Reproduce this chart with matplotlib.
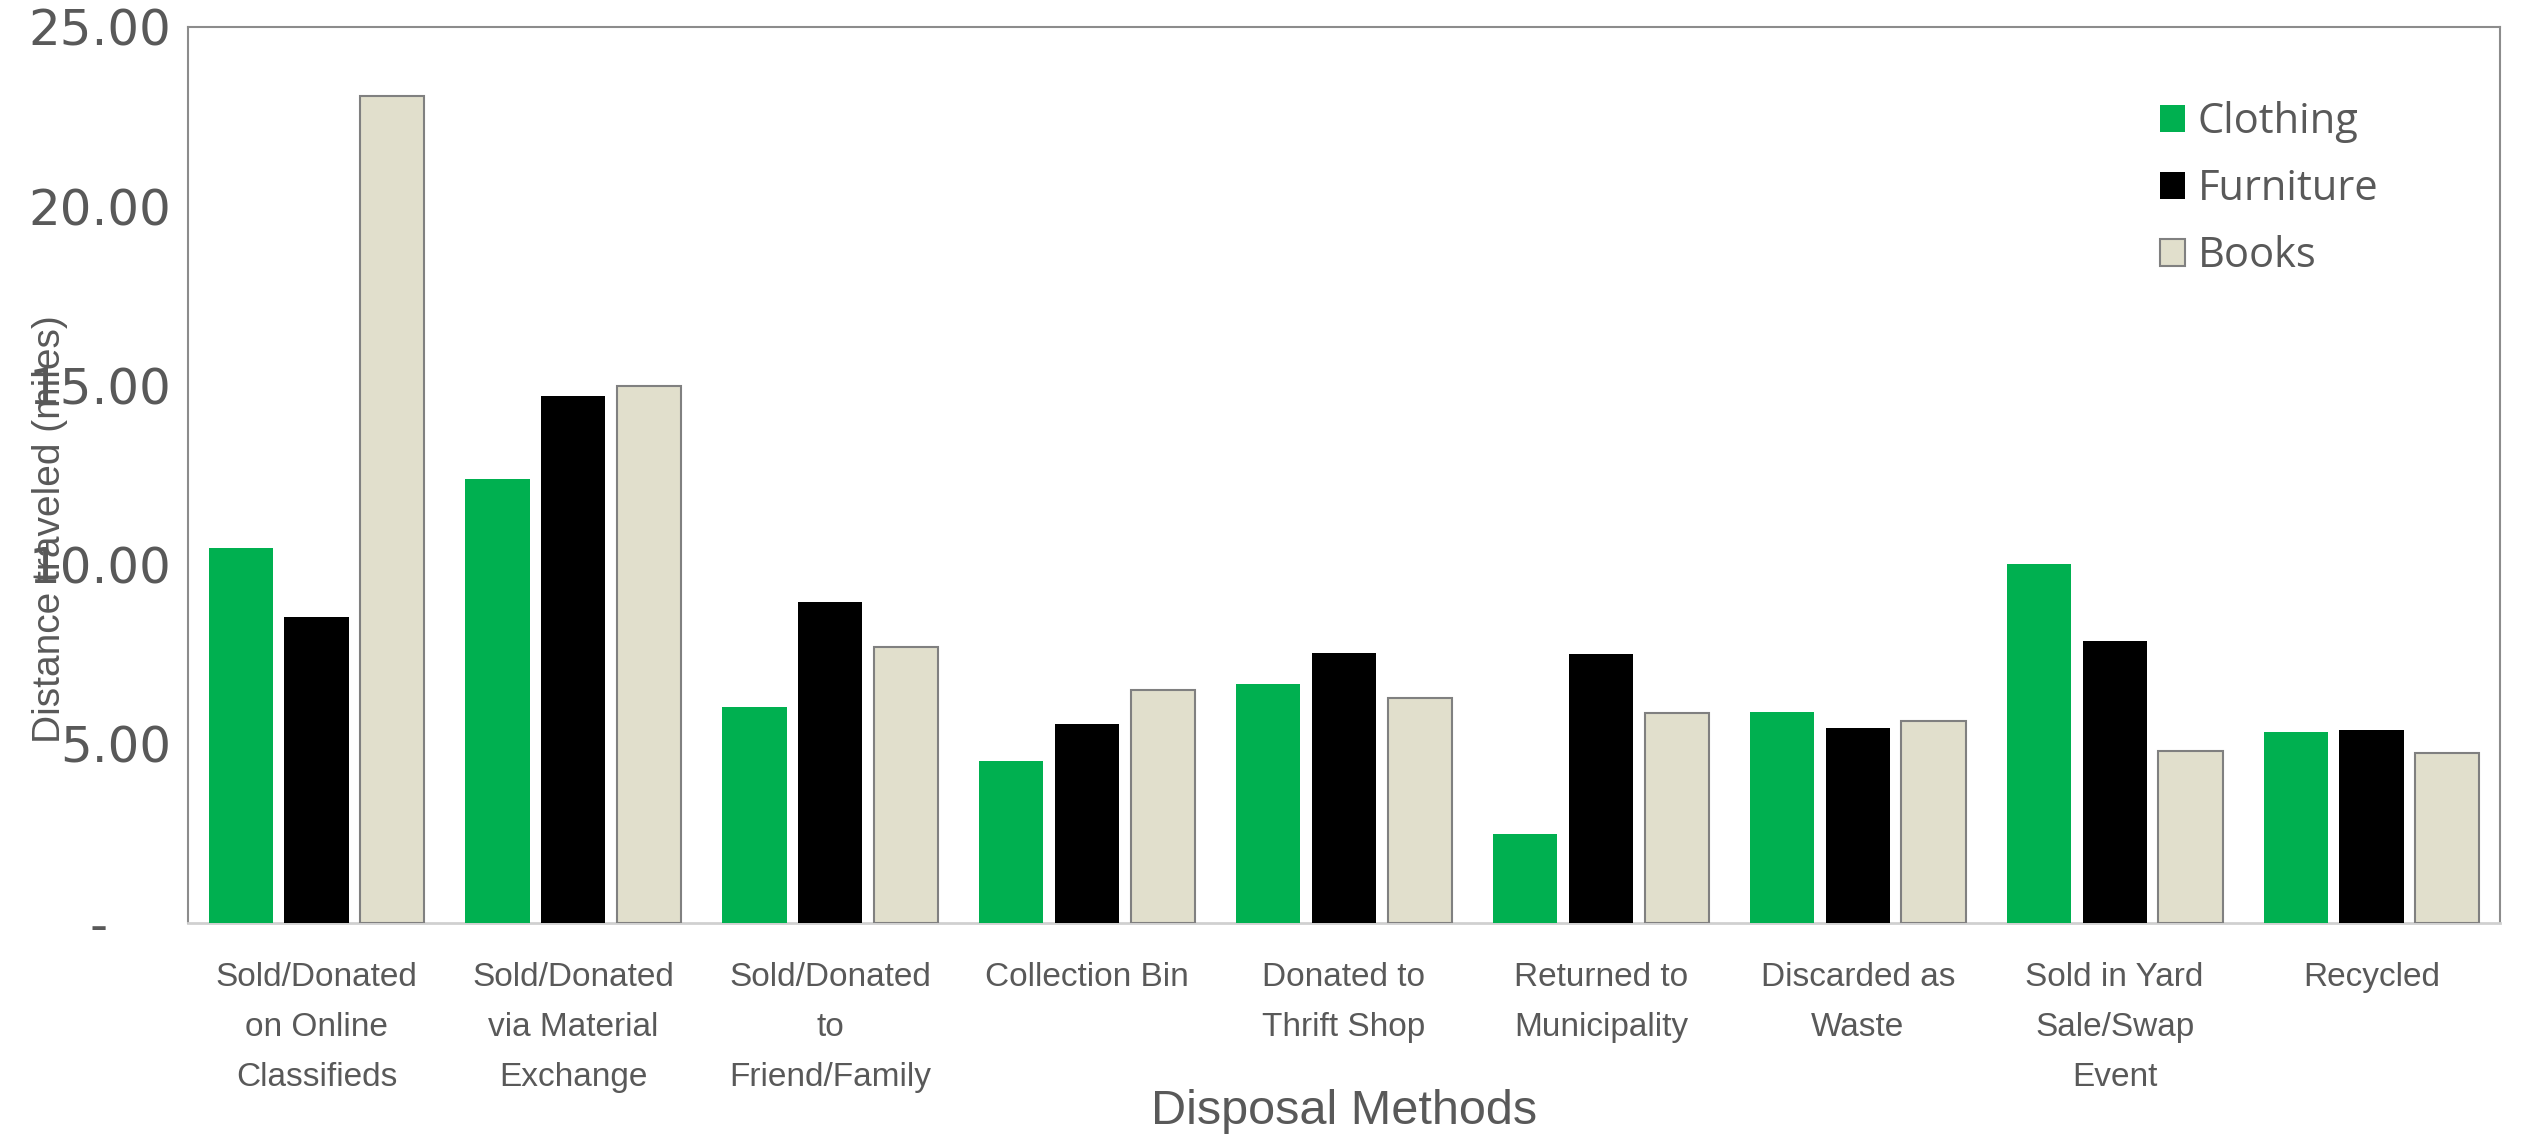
import numpy as np
import matplotlib.pyplot as plt
from matplotlib.ticker import FuncFormatter

# disposal methods and average distance travelled per item type
methods = ["Sold/Donated\non Online\nClassifieds", "Sold/Donated\nvia Material\nExchange",
           "Sold/Donated\nto\nFriend/Family", "Collection Bin", "Donated to\nThrift Shop",
           "Returned to\nMunicipality", "Discarded as\nWaste", "Sold in Yard\nSale/Swap\nEvent",
           "Recycled"]
clothing = [10.45, 12.40, 6.03, 4.52, 6.67, 2.49, 5.88, 10.03, 5.33]
furniture = [8.55, 14.70, 8.97, 5.54, 7.53, 7.51, 5.45, 7.87, 5.38]
books = [23.07, 14.97, 7.70, 6.51, 6.28, 5.85, 5.65, 4.81, 4.73]
yticks = [0, 5, 10, 15, 20, 25]

txt = '#595959'
narrow = 'Liberation Sans'

fig = plt.figure(figsize=(25.26, 11.36), dpi=100)
ax = fig.add_axes([188/2526, 1 - 923/1136, (2500-188)/2526, (923-27)/1136])

x = np.arange(len(methods))
w = 0.25
d = 0.295
ax.bar(x - d, clothing, w, color='#00B050', label='Clothing', zorder=3)
ax.bar(x, furniture, w, color='#000000', label='Furniture', zorder=3)
ax.bar(x + d, books, w, color='#E1DFCC', edgecolor='#808080', linewidth=1.5,
       label='Books', zorder=3)

ax.set_xlim(-0.5, len(methods) - 0.5)
ax.set_ylim(0, 25)
ax.set_yticks(yticks)
# accounting style: zero shown as a dash
ax.yaxis.set_major_formatter(FuncFormatter(lambda v, p: '-    ' if v == 0 else '%.2f' % v))
ax.tick_params(axis='y', length=0, pad=12, labelsize=36, labelcolor=txt)
ax.set_xticks(x)
ax.set_xticklabels(methods, fontsize=24, color=txt, family=narrow, linespacing=1.8)
ax.tick_params(axis='x', length=0, pad=28)

for s in ['left', 'top', 'right']:
    ax.spines[s].set_color('#8C8C8C')
    ax.spines[s].set_linewidth(1.5)
ax.spines['bottom'].set_color('#D0D0D0')
ax.spines['bottom'].set_linewidth(2)

ax.set_xlabel('Disposal Methods', fontsize=35, color=txt, family=narrow)
ax.xaxis.set_label_coords(0.5, -0.185)
ax.set_ylabel('Distance traveled (miles)', fontsize=28, color=txt, family=narrow)
ax.yaxis.set_label_coords(-0.052, 0.44)

leg = ax.legend(loc='upper left', frameon=False, labelcolor=txt,
                handlelength=0.62, handleheight=0.62, handletextpad=0.3,
                labelspacing=0.6, prop={'family': 'Open Sans', 'size': 30},
                bbox_to_anchor=(2122/2526, 1 - 64/1136), bbox_transform=fig.transFigure)

fig.savefig('out.png', dpi=100)
